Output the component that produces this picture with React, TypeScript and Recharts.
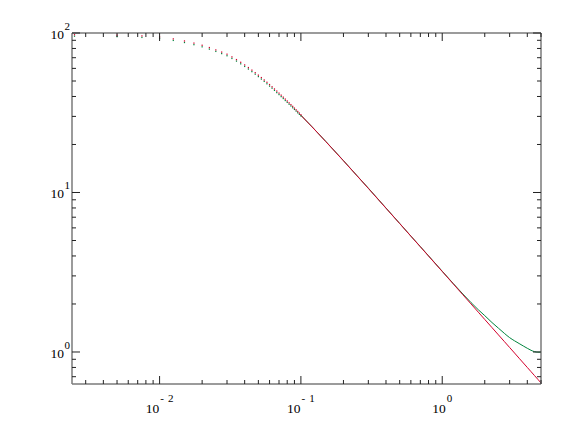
import React from "react";
import { ComposedChart, XAxis, YAxis, Line, Scatter } from "recharts";

// sparse low-x samples, drawn as tiny dots
const dotX = [
  0.0025, 0.005, 0.0075, 0.01, 0.0125, 0.015, 0.0175, 0.02, 0.0225, 0.025,
  0.0275, 0.03, 0.0325, 0.035, 0.0375, 0.04, 0.0425, 0.045, 0.0475, 0.05,
  0.0525, 0.055, 0.0575, 0.06, 0.0625, 0.065, 0.0675, 0.07, 0.0725, 0.075,
  0.0775, 0.08, 0.0825, 0.085, 0.0875, 0.09, 0.0925, 0.095, 0.0975, 0.1,
];
const dotRed = [
  96.6, 96.0, 95.0, 93.6, 91.0, 88.3, 85.6, 83.0, 80.3, 77.6,
  75.2, 72.95, 70.16, 67.48, 64.91, 62.47, 60.15, 57.95, 55.87, 53.91,
  52.05, 50.29, 48.63, 47.06, 45.57, 44.17, 42.84, 41.58, 40.38, 39.24,
  38.17, 37.14, 36.16, 35.23, 34.35, 33.5, 32.69, 31.92, 31.18, 30.48,
];
const dotGreen = [
  96.4, 95.8, 94.7, 93.3, 90.7, 88.0, 85.3, 82.7, 80.0, 77.4,
  75.0, 72.7, 69.9, 67.3, 64.7, 62.3, 60.0, 57.8, 55.7, 53.8,
  51.9, 50.2, 48.5, 46.9, 45.5, 44.1, 42.7, 41.5, 40.3, 39.2,
  38.1, 37.1, 36.1, 35.2, 34.3, 33.5, 32.7, 31.9, 31.2, 30.5,
];

// dense part, drawn as continuous curves
const lineX = [
  0.1, 0.12, 0.15, 0.2, 0.25, 0.3, 0.4, 0.5, 0.6, 0.7, 0.8, 1, 1.2, 1.4, 1.6,
  1.8, 2, 2.25, 2.5, 2.75, 3, 3.25, 3.5, 3.75, 4, 4.25, 4.5, 4.75, 5,
];
const lineRed = [
  30.48, 25.77, 20.86, 15.8, 12.7, 10.61, 7.97, 6.387, 5.326, 4.567, 3.997,
  3.198, 2.666, 2.285, 2.0, 1.777, 1.6, 1.422, 1.28, 1.164, 1.067, 0.985,
  0.914, 0.853, 0.8, 0.753, 0.711, 0.674, 0.64,
];
const lineGreen = [
  30.5, 25.8, 20.9, 15.85, 12.72, 10.65, 7.99, 6.4, 5.33, 4.58, 4.01,
  3.21, 2.68, 2.31, 2.04, 1.84, 1.69, 1.53, 1.41, 1.31, 1.23, 1.175,
  1.13, 1.09, 1.055, 1.025, 1.005, 0.998, 0.998,
];

const xTicks = [
  0.003, 0.004, 0.005, 0.006, 0.007, 0.008, 0.009, 0.01, 0.02, 0.03, 0.04,
  0.05, 0.06, 0.07, 0.08, 0.09, 0.1, 0.2, 0.3, 0.4, 0.5, 0.6, 0.7, 0.8, 0.9,
  1, 2, 3, 4, 5,
];
const yTicks = [
  0.7, 0.8, 0.9, 1, 2, 3, 4, 5, 6, 7, 8, 9, 10, 20, 30, 40, 50, 60, 70, 80,
  90, 100,
];

const GREEN = "#00843d";
const RED = "#d4002c";
const AXIS = "#7a7a7a";
const FONT = "Liberation Serif";

const zip = (xs: number[], ys: number[]) => xs.map((x, i) => ({ x, y: ys[i] }));

const exponent = (v: number) => Math.round(Math.log10(v));
const isMajor = (v: number) => Math.abs(Math.log10(v) - exponent(v)) < 1e-9;

// ticks point into the plot; side says where the axis sits
const makeTick = (side: "bottom" | "top" | "left" | "right") => (props: any) => {
  const { x, y, payload } = props;
  const major = isMajor(payload.value);
  const len = major ? 8 : 4;
  let line;
  if (side === "bottom") line = <line x1={x} y1={y} x2={x} y2={y - len} />;
  else if (side === "top") line = <line x1={x} y1={y} x2={x} y2={y + len} />;
  else if (side === "left") line = <line x1={x} y1={y} x2={x + len} y2={y} />;
  else line = <line x1={x} y1={y} x2={x - len} y2={y} />;
  const e = exponent(payload.value);
  return (
    <g stroke="#222" strokeWidth={1}>
      {line}
      {major && side === "bottom" && (
        <text x={x} y={y + 29} textAnchor="middle" fill="#000" stroke="none" fontSize={13.5} fontFamily={FONT}>
          10
          {e < 0 && <tspan dx={1} dy={-11} fontSize={11}>-</tspan>}
          <tspan dx={e < 0 ? 4 : 1} dy={e < 0 ? 0 : -11} fontSize={11}>{Math.abs(e)}</tspan>
        </text>
      )}
      {major && side === "left" && (
        <text x={x - 2} y={y + 6} textAnchor="end" fill="#000" stroke="none" fontSize={13.5} fontFamily={FONT}>
          10<tspan dx={0.5} dy={-9} fontSize={11}>{e}</tspan>
        </text>
      )}
    </g>
  );
};

const dotShape = (color: string, dy: number) => (props: any) => (
  <rect x={props.cx - 0.6} y={props.cy + dy} width={1.2} height={1.3} fill={color} />
);

export default function App() {
  const xDomain = [0.0024, 5];
  const yDomain = [0.63, 100];
  return (
    <div style={{ position: "absolute", left: 0, top: 0, background: "#fff" }}>
      <ComposedChart width={585} height={439} margin={{ top: 32, right: 43, bottom: 54, left: 71 }}>
        <XAxis xAxisId="b" dataKey="x" type="number" scale="log" domain={xDomain} allowDataOverflow
          ticks={xTicks} interval={0} height={1} tickSize={0} tickMargin={0}
          axisLine={{ stroke: AXIS, strokeWidth: 1.5 }} tickLine={false} tick={makeTick("bottom")} />
        <XAxis xAxisId="t" orientation="top" dataKey="x" type="number" scale="log" domain={xDomain} allowDataOverflow
          ticks={xTicks} interval={0} height={1} tickSize={0} tickMargin={0}
          axisLine={{ stroke: AXIS, strokeWidth: 1.5 }} tickLine={false} tick={makeTick("top")} />
        <YAxis yAxisId="l" dataKey="y" type="number" scale="log" domain={yDomain} allowDataOverflow
          ticks={yTicks} interval={0} width={1} tickSize={0} tickMargin={0}
          axisLine={{ stroke: AXIS, strokeWidth: 1.5 }} tickLine={false} tick={makeTick("left")} />
        <YAxis yAxisId="r" orientation="right" dataKey="y" type="number" scale="log" domain={yDomain} allowDataOverflow
          ticks={yTicks} interval={0} width={1} tickSize={0} tickMargin={0}
          axisLine={{ stroke: AXIS, strokeWidth: 1.5 }} tickLine={false} tick={makeTick("right")} />

        <Scatter xAxisId="b" yAxisId="l" data={zip(dotX, dotGreen)} dataKey="y"
          shape={dotShape(GREEN, 0)} isAnimationActive={false} />
        <Scatter xAxisId="b" yAxisId="l" data={zip(dotX, dotRed)} dataKey="y"
          shape={dotShape(RED, -1.3)} isAnimationActive={false} />
        <Line xAxisId="b" yAxisId="l" data={zip(lineX, lineGreen)} dataKey="y" type="monotone"
          stroke={GREEN} strokeWidth={1} dot={false} isAnimationActive={false} />
        <Line xAxisId="b" yAxisId="l" data={zip(lineX, lineRed)} dataKey="y" type="monotone"
          stroke={RED} strokeWidth={1} dot={false} isAnimationActive={false} />
      </ComposedChart>
    </div>
  );
}
